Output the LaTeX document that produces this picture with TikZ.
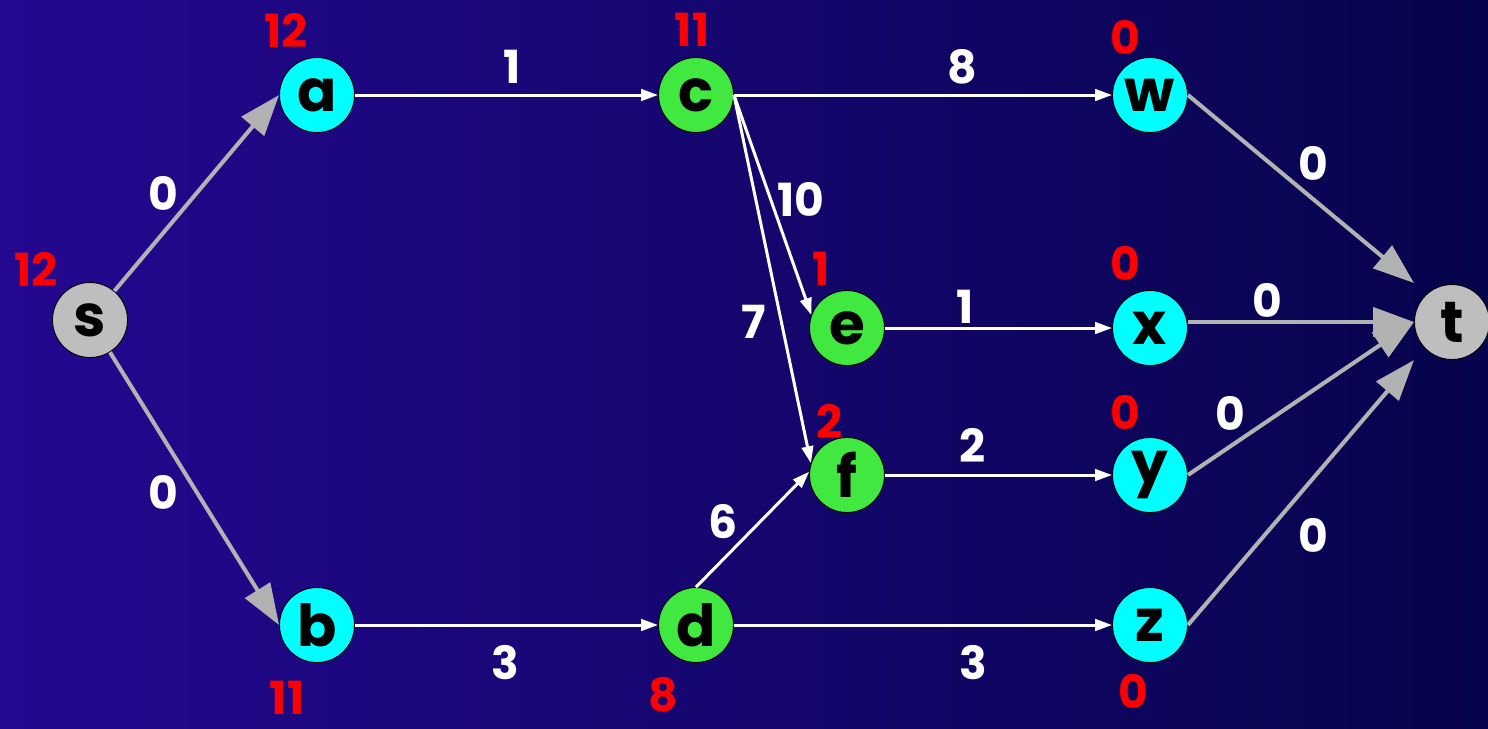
\documentclass[tikz,border=0pt]{standalone}
\usepackage{fontspec}
\setmainfont{Poppins}
\usepackage{tikz}
\usetikzlibrary{arrows.meta}
\definecolor{bgleft}{RGB}{36,8,144}
\definecolor{bgright}{RGB}{6,4,76}
\definecolor{vcyan}{RGB}{0,255,255}
\definecolor{vgreen}{RGB}{64,232,64}
\definecolor{vgray}{RGB}{190,190,190}
\definecolor{egray}{RGB}{178,178,178}
\tikzset{
    vtx/.style={draw=black, line width=0.5pt, circle, minimum size=1.5cm, inner sep=0pt, text=black, font=\bfseries\fontsize{33}{33}\selectfont},
    vcy/.style={vtx, fill=vcyan},
    vgr/.style={vtx, fill=vgreen},
    vgy/.style={vtx, fill=vgray},
    dist/.style={text=red, inner sep=0pt, font=\bfseries\fontsize{26}{26}\selectfont},
    wgt/.style={text=white, inner sep=0pt, font=\bfseries\fontsize{26}{26}\selectfont},
    tarc/.style={-{Triangle[length=0.34cm, width=0.23cm]}, draw=white, line width=1.7pt},
    garc/.style={-{Triangle[length=0.82cm, width=0.58cm]}, draw=egray, line width=2.3pt},
}

\begin{document}
\begin{tikzpicture}[x=0.02cm, y=-0.02cm]
        \shade[left color=bgleft, right color=bgright] (0,0) rectangle (1488,728);
        \useasboundingbox (0,0) rectangle (1488,728);
        \node[vgy] (s) at (90,320) {s};
        \node[vcy] (a) at (317,95) {a};
        \node[vcy] (b) at (317,625) {b};
        \node[vgr] (c) at (696,95) {c};
        \node[vgr] (d) at (696,625) {d};
        \node[vgr] (e) at (847,328) {e};
        \node[vgr] (f) at (847,475) {f};
        \node[vcy] (w) at (1150,95) {w};
        \node[vcy] (x) at (1150,328) {x};
        \node[vcy] (y) at (1150,475) {y};
        \node[vcy] (z) at (1150,625) {z};
        \node[vgy] (t) at (1452,322) {t};
        \coordinate (tnw) at (1414,283);
        \coordinate (tsw) at (1414,360);
        \node[dist] (ds) at (36,269) {12};
        \node[dist] (da) at (286,30) {12};
        \node[dist] (dc) at (692,30) {11};
        \node[dist] (dw) at (1125,37) {0};
        \node[dist] (de) at (821,269) {1};
        \node[dist] (dx) at (1125,263) {0};
        \node[dist] (df) at (830,421) {2};
        \node[dist] (dy) at (1125,412) {0};
        \node[dist] (db) at (287,698) {11};
        \node[dist] (dd) at (663,695) {8};
        \node[dist] (dz) at (1133,691) {0};
        \draw[garc] (s) -- (a.west);
        \draw[garc] (s) -- (b.west);
        \draw[tarc] (a) -- (c);
        \draw[tarc] (b) -- (d);
        \draw[tarc] (c) -- (w);
        \draw[tarc] (c.east) -- (e.160);
        \draw[tarc] (c.east) -- (f.162);
        \draw[tarc] (d.north) -- (f.175);
        \draw[tarc] (d) -- (z);
        \draw[tarc] (e) -- (x);
        \draw[tarc] (f) -- (y);
        \draw[garc] (w.east) -- (tnw);
        \draw[garc] (x.east |- t) -- (t.west);
        \draw[garc] (y.east) -- (t.west);
        \draw[garc] (z.east) -- (tsw);
        \node[wgt] (lsa) at (163,193) {0};
        \node[wgt] (lsb) at (163,492) {0};
        \node[wgt] (lac) at (512,67) {1};
        \node[wgt] (lbd) at (505,663) {3};
        \node[wgt] (lcw) at (962,67) {8};
        \node[wgt] (lce) at (801,199) {10};
        \node[wgt] (lcf) at (754,322) {7};
        \node[wgt] (ldf) at (723,522) {6};
        \node[wgt] (ldz) at (973,663) {3};
        \node[wgt] (lex) at (965,307) {1};
        \node[wgt] (lfy) at (973,445) {2};
        \node[wgt] (lwt) at (1313,163) {0};
        \node[wgt] (lxt) at (1267,300) {0};
        \node[wgt] (lyt) at (1230,413) {0};
        \node[wgt] (lzt) at (1313,535) {0};
    \end{tikzpicture}
\end{document}
